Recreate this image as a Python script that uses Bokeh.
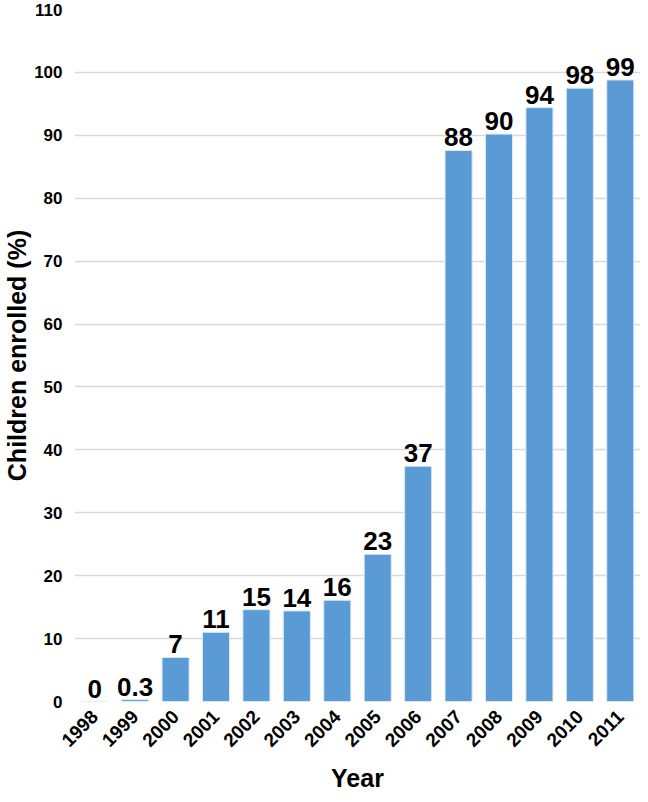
import math
from bokeh.plotting import figure
from bokeh.models import ColumnDataSource, FixedTicker, FactorRange, Range1d, LabelSet
from bokeh.core.properties import value
from bokeh.embed import file_html
from bokeh.resources import INLINE

years = ["1998", "1999", "2000", "2001", "2002", "2003", "2004",
         "2005", "2006", "2007", "2008", "2009", "2010", "2011"]
enrolled = [0.0, 0.3, 7.0, 11.0, 14.6, 14.4, 16.1,
            23.4, 37.4, 87.6, 90.2, 94.4, 97.5, 98.8]
value_labels = ["0", "0.3", "7", "11", "15", "14", "16",
                "23", "37", "88", "90", "94", "98", "99"]
y_ticks = [0, 10, 20, 30, 40, 50, 60, 70, 80, 90, 100, 110]

FONT = "Liberation Sans"

src = ColumnDataSource(dict(year=years, val=enrolled, lab=value_labels))

p = figure(width=640, height=794, output_backend="svg", toolbar_location=None,
           x_range=FactorRange(*years, range_padding=0),
           y_range=Range1d(0, 110),
           min_border_left=66, min_border_right=0, min_border_top=9,
           min_border_bottom=0)
p.outline_line_color = None
p.background_fill_color = "white"
p.border_fill_color = "white"

p.vbar(x="year", top="val", width=0.67, source=src,
       fill_color="#5B9BD5", line_color="#DDEBF7", line_width=1)

labels = LabelSet(x="year", y="val", text="lab", source=src,
                  text_align="center", text_baseline="bottom", y_offset=4,
                  text_font=value(FONT), text_font_style="bold",
                  text_font_size="26px", text_color="black")
p.add_layout(labels)

p.yaxis.ticker = FixedTicker(ticks=y_ticks)
p.ygrid.grid_line_color = "#D9D9D9"
p.ygrid.grid_line_width = 1.5
p.xgrid.grid_line_color = None

for ax in (p.xaxis[0], p.yaxis[0]):
    ax.axis_line_color = None
    ax.major_tick_line_color = None
    ax.minor_tick_line_color = None
    ax.major_tick_out = 0
    ax.major_tick_in = 0
    ax.major_label_text_font = FONT
    ax.major_label_text_font_style = "bold"
    ax.major_label_text_color = "black"
    ax.axis_label_text_font = FONT
    ax.axis_label_text_font_style = "bold"
    ax.axis_label_text_color = "black"

p.yaxis.axis_label = "Children enrolled (%)"
p.yaxis.axis_label_text_font_size = "25px"
p.yaxis.major_label_text_font_size = "17px"
p.yaxis.major_label_standoff = 12
p.yaxis.axis_label_standoff = 0

p.xaxis.axis_label = "Year"
p.xaxis.axis_label_text_font_size = "25px"
p.xaxis.major_label_text_font_size = "19px"
p.xaxis.major_label_orientation = math.pi / 4
p.xaxis.major_label_standoff = 12
p.xaxis.axis_label_standoff = 8
p.xaxis.group_text_font_size = "0px"

open("out.html", "w").write(file_html(p, INLINE))
